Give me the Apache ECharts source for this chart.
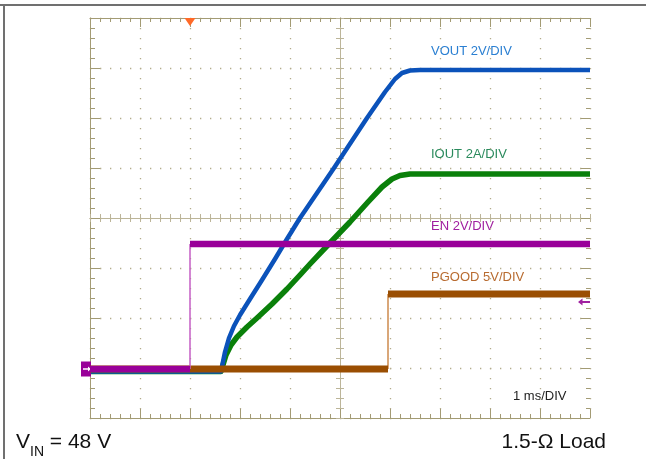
<!DOCTYPE html>
<html>
<head>
<meta charset="utf-8">
<script src="https://cdn.jsdelivr.net/npm/echarts@6/dist/echarts.min.js"></script>
<style>
  html, body { margin: 0; padding: 0; background: #fff; }
  #scope { width: 646px; height: 459px; }
</style>
</head>
<body>
<div id="scope"></div>
<script>
// time in divisions (1 ms/DIV), level in divisions from bottom of screen
var voutT = [0, 2.62, 2.70, 2.78, 2.88, 3.00, 3.20, 3.44, 3.70, 3.94, 4.20, 4.88, 5.54, 5.90, 6.10, 6.24, 6.40, 6.60, 10];
var voutV = [0.93, 0.93, 1.32, 1.60, 1.84, 2.06, 2.38, 2.76, 3.18, 3.58, 4.00, 5.00, 6.00, 6.52, 6.78, 6.90, 6.95, 6.96, 6.96];

var ioutT = [0, 2.62, 2.72, 2.82, 2.94, 3.14, 3.34, 3.64, 3.94, 4.20, 4.40, 4.74, 5.20, 5.56, 5.84, 6.04, 6.20, 6.40, 10];
var ioutV = [0.93, 0.93, 1.26, 1.46, 1.62, 1.82, 2.00, 2.28, 2.58, 2.86, 3.08, 3.44, 3.92, 4.32, 4.62, 4.78, 4.85, 4.88, 4.88];

var enT = [0, 2, 2, 10];
var enV = [0.98, 0.98, 3.48, 3.48];

var pgoodT = [0, 5.96, 5.96, 10];
var pgoodV = [0.98, 0.98, 2.48, 2.48];

var traceLabels = ['VOUT 2V/DIV', 'IOUT 2A/DIV', 'EN 2V/DIV', 'PGOOD 5V/DIV'];
var timeLabel = '1 ms/DIV';
var vinLabel = ['V', 'IN', ' = 48 V'];
var loadLabel = '1.5-\u03A9 Load';

var FONT = '"Liberation Sans", Arial, sans-serif';
var frameColor = '#a39b74';
var dotColor = '#b3ac8c';
var centerColor = '#bcb599';

function pts(t, v) {
  return t.map(function (x, i) { return [x, v[i]]; });
}
// flat parts of a step trace (vertical edge left out)
function levels(t, v) {
  var out = [];
  for (var i = 0; i < t.length; i++) {
    if (i > 0 && t[i] === t[i - 1]) out.push([t[i], '-']);
    out.push([t[i], v[i]]);
  }
  return out;
}
// vertical edges of a step trace
function edges(t, v) {
  var out = [];
  for (var i = 1; i < t.length; i++) {
    if (t[i] === t[i - 1]) {
      if (out.length) out.push([t[i], '-']);
      out.push([t[i - 1], v[i - 1]], [t[i], v[i]]);
    }
  }
  return out;
}

// one graticule edge: ticks every `step` divisions, pointing into the grid
function axis(max, grid, pos, color, step, len, line, extra) {
  var a = {
    type: 'value', min: 0, max: max, interval: step, gridIndex: grid, position: pos,
    axisLabel: { show: false },
    splitLine: { show: false },
    axisLine: { show: line, onZero: false, lineStyle: { color: color, width: 1 } },
    axisTick: { show: true, inside: true, length: len, lineStyle: { color: color } }
  };
  return Object.assign(a, extra || {});
}
function hidden(max, grid) {
  return { type: 'value', min: 0, max: max, gridIndex: grid, show: false };
}
var dotted = { show: true, lineStyle: { color: dotColor, width: 1.3, type: [1.3, 8.7] } };

var chart = echarts.init(document.getElementById('scope'), null, { renderer: 'canvas' });

var option = {
  animation: false,
  backgroundColor: '#fff',
  grid: [
    { left: 90, top: 18, width: 500, height: 400 },   // screen
    { left: 90, top: 18, width: 500, height: 200 },   // upper half -> ticks up from centre line
    { left: 90, top: 218, width: 500, height: 200 },  // lower half -> ticks down
    { left: 90, top: 18, width: 250, height: 400 },   // left half -> ticks left
    { left: 340, top: 18, width: 250, height: 400 }   // right half -> ticks right
  ],
  xAxis: [
    axis(10, 0, 'bottom', frameColor, 1, 9, true, { splitLine: dotted }),
    axis(10, 0, 'bottom', frameColor, 0.2, 4, false),
    axis(10, 0, 'top', frameColor, 1, 9, true),
    axis(10, 0, 'top', frameColor, 0.2, 4, false),
    axis(10, 1, 'bottom', centerColor, 0.2, 4, true),
    axis(10, 2, 'top', centerColor, 0.2, 4, true),
    hidden(10, 3),
    hidden(10, 4)
  ],
  yAxis: [
    axis(8, 0, 'left', frameColor, 1, 10, true, { splitLine: dotted }),
    axis(8, 0, 'left', frameColor, 0.2, 5, false),
    axis(8, 0, 'right', frameColor, 1, 9, false),
    axis(8, 0, 'right', frameColor, 0.2, 4, false),
    hidden(8, 1),
    hidden(8, 2),
    axis(8, 3, 'right', centerColor, 0.2, 4, true),
    axis(8, 4, 'left', centerColor, 0.2, 4, true)
  ],
  series: [
    {
      name: 'IOUT', type: 'line', data: pts(ioutT, ioutV), showSymbol: false, z: 2,
      lineStyle: { color: '#0a800a', width: 5.5, join: 'round' }
    },
    {
      name: 'VOUT', type: 'line', data: pts(voutT, voutV), showSymbol: false, z: 3,
      lineStyle: { color: '#0b52ba', width: 4.5, join: 'round' }
    },
    {
      name: 'PGOOD edge', type: 'line', data: edges(pgoodT, pgoodV), showSymbol: false, z: 4,
      lineStyle: { color: '#cc8a4c', width: 1.5 }
    },
    {
      name: 'PGOOD', type: 'line', data: levels(pgoodT, pgoodV), showSymbol: false, z: 5,
      lineStyle: { color: '#9a4e02', width: 7 }
    },
    {
      name: 'EN edge', type: 'line', data: edges(enT, enV), showSymbol: false, z: 6,
      lineStyle: { color: '#c45ec4', width: 1.5 }
    },
    {
      name: 'EN', type: 'line', data: levels(enT, enV), showSymbol: false, z: 7,
      lineStyle: { color: '#990099', width: 6.5 },
      markPoint: {
        silent: true,
        label: { show: false },
        data: [
          // trigger position
          { coord: [2, 8], symbol: 'triangle', symbolRotate: 180, symbolSize: [11, 8], symbolOffset: [0, 4],
            itemStyle: { color: '#ff6a28' } },
          // channel ground marker
          { coord: [0, enV[0]], symbol: 'rect', symbolSize: [10, 15], symbolOffset: [-4, 0],
            itemStyle: { color: '#990099' } },
          { coord: [0, enV[0]], symbol: 'path://M16,5L10,0L10,3.5L0,3.5L0,6.5L10,6.5L10,10Z', symbolKeepAspect: false,
            symbolSize: [8, 5], symbolOffset: [-3, 0], itemStyle: { color: '#fff' } },
          // trigger level
          { coord: [10, 2.32], symbol: 'path://M0,5L6,0L6,3.5L16,3.5L16,6.5L6,6.5L6,10Z', symbolKeepAspect: false,
            symbolSize: [12, 7], symbolOffset: [-6, 0], itemStyle: { color: '#a020a0' } }
        ]
      }
    }
  ],
  graphic: [
    { type: 'line', shape: { x1: 0, y1: 5, x2: 646, y2: 5 }, style: { stroke: '#707070', lineWidth: 2 }, silent: true },
    { type: 'line', shape: { x1: 4, y1: 5, x2: 4, y2: 459 }, style: { stroke: '#707070', lineWidth: 2 }, silent: true },
    { type: 'text', left: 431, top: 45, style: { text: traceLabels[0], fill: '#2a7fd2', font: '13px ' + FONT } },
    { type: 'text', left: 431, top: 148, style: { text: traceLabels[1], fill: '#2a8a5c', font: '13px ' + FONT } },
    { type: 'text', left: 431, top: 220, style: { text: traceLabels[2], fill: '#a01ea0', font: '13px ' + FONT } },
    { type: 'text', left: 431, top: 271, style: { text: traceLabels[3], fill: '#b86b30', font: '13px ' + FONT } },
    { type: 'text', left: 513, top: 390, style: { text: timeLabel, fill: '#222', font: '13px ' + FONT } },
    { type: 'text', left: 16, top: 432, style: { text: vinLabel[0], fill: '#111', font: '21px ' + FONT } },
    { type: 'text', left: 30, top: 445, style: { text: vinLabel[1], fill: '#111', font: '14px ' + FONT } },
    { type: 'text', left: 44, top: 432, style: { text: vinLabel[2], fill: '#111', font: '21px ' + FONT } },
    { type: 'text', right: 40, top: 432, style: { text: loadLabel, fill: '#111', font: '21px ' + FONT } }
  ]
};

chart.setOption(option);
</script>
</body>
</html>
